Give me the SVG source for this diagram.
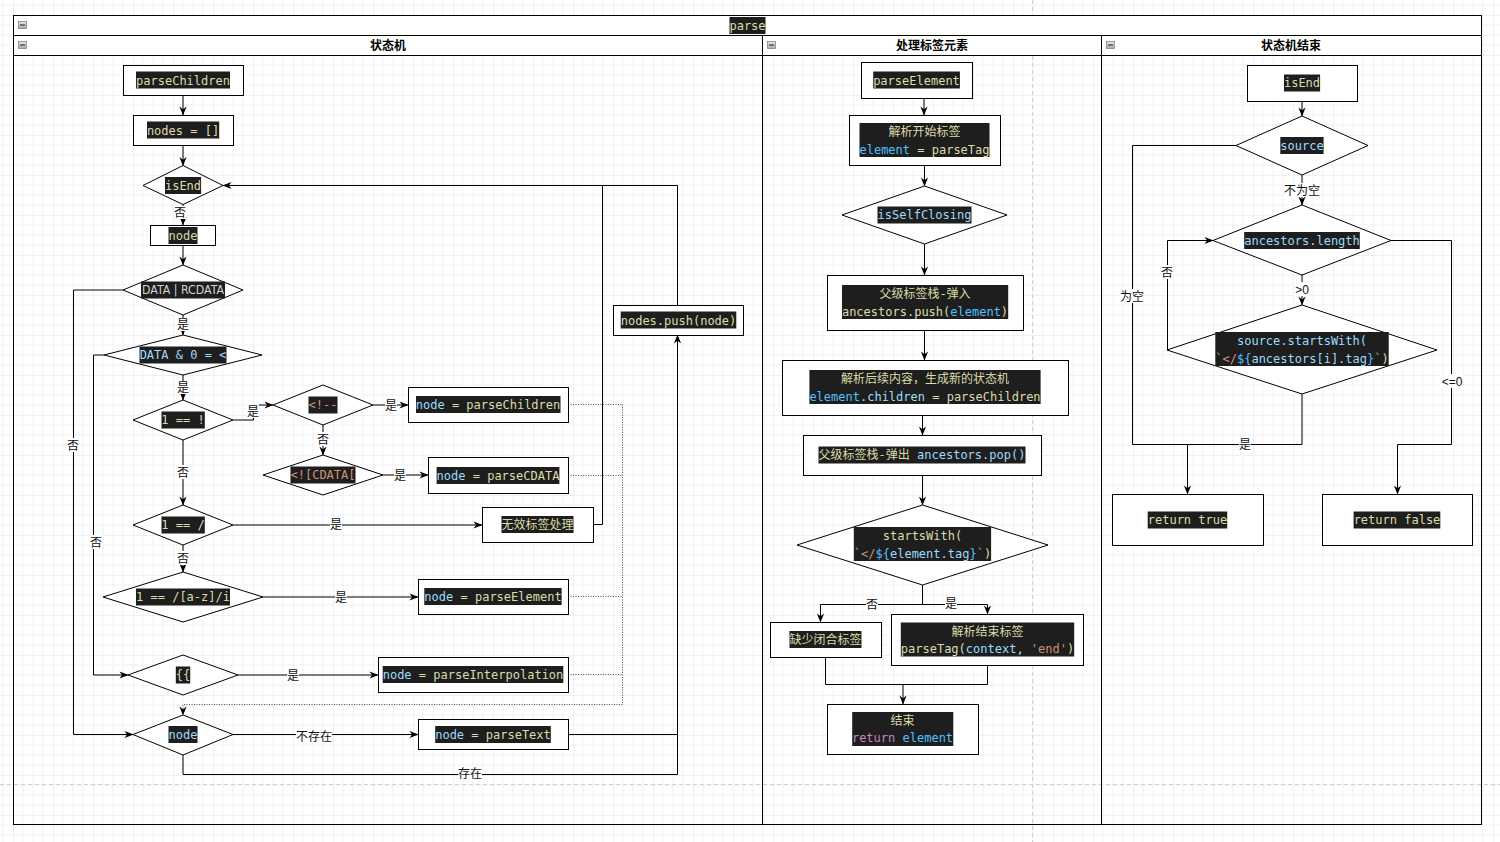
<svg xmlns="http://www.w3.org/2000/svg" xmlns:xlink="http://www.w3.org/1999/xlink" width="1500" height="842" viewBox="0 0 1500 842">
<defs>
<pattern id="grid" width="40" height="40" patternUnits="userSpaceOnUse" x="13" y="15">
<path d="M10,0V40M20,0V40M30,0V40M0,10H40M0,20H40M0,30H40" stroke="#f1f1f5" stroke-width="1" fill="none"/>
<path d="M0,0V40M0,0H40" stroke="#e2e2ea" stroke-width="1" fill="none"/>
</pattern>
<linearGradient id="ig" x1="0" y1="0" x2="0" y2="1"><stop offset="0" stop-color="#e8e8e8"/><stop offset="1" stop-color="#a8a8a8"/></linearGradient>
<symbol id="col" viewBox="0 0 9 8" width="9" height="8"><rect x="0.5" y="0.5" width="8" height="7" fill="url(#ig)" stroke="#777" stroke-width="0.7"/><path d="M2,4H7" stroke="#222" stroke-width="1"/></symbol>
<marker id="a" viewBox="0 0 10 10" refX="9.5" refY="5" markerWidth="9" markerHeight="9" markerUnits="userSpaceOnUse" orient="auto"><path d="M0,1 L10,5 L0,9 L3,5 Z" fill="#000"/></marker>
</defs>
<style>
.box{fill:#fff;stroke:#000;stroke-width:1}
.hdr{fill:#fffffd;stroke:#000;stroke-width:1}
.hl{fill:#1e1e1e}
.code{font-family:"DejaVu Sans Mono","Noto Sans CJK SC",monospace;font-size:12px;fill:#dcdcaa;text-anchor:middle}
.b{fill:#9cdcfe}.e{fill:#4fc1ff}.o{fill:#ce9178}.p{fill:#c586c0}.w{fill:#d4d4d4}.y{fill:#dcdcaa}
.edge{fill:none;stroke:#000;stroke-width:1}
.arr{marker-end:url(#a)}
.dot{fill:none;stroke:#555;stroke-width:1;stroke-dasharray:1,1.5}
.lbl{font-family:"Noto Sans CJK SC","Liberation Sans",sans-serif;font-size:12px;fill:#111;text-anchor:middle}
.lbg{fill:#fff}
.ttl{font-family:"Noto Sans CJK SC","Liberation Sans",sans-serif;font-size:12px;font-weight:bold;fill:#000;text-anchor:middle}
.pg{stroke:#cfcfd4;stroke-width:1;stroke-dasharray:4,3;fill:none}
</style>
<rect width="1500" height="842" fill="#fff"/>
<rect width="1500" height="842" fill="url(#grid)"/>
<path class="pg" d="M0,784.5H1500M1032.5,0V842"/>

<g id="container">
<rect x="13.5" y="15.5" width="1468" height="809" fill="none" stroke="#000"/>
<rect class="hdr" x="13.5" y="15.5" width="1468" height="20"/>
<rect class="hl" x="729.5" y="17" width="36" height="17"/>
<text class="code" x="747.5" y="29.5">parse</text>
<use xlink:href="#col" x="18" y="21"/>
</g>
<g id="lane1">
<rect class="hdr" x="13.5" y="35.5" width="749" height="20"/>
<rect x="13.5" y="35.5" width="749" height="789" fill="none" stroke="#000"/>
<use xlink:href="#col" x="18" y="41"/>
<text class="ttl" x="388" y="49.5">状态机</text>
</g>
<g id="lane2">
<rect class="hdr" x="762.5" y="35.5" width="339" height="20"/>
<rect x="762.5" y="35.5" width="339" height="789" fill="none" stroke="#000"/>
<use xlink:href="#col" x="767" y="41"/>
<text class="ttl" x="932" y="49.5">处理标签元素</text>
</g>
<g id="lane3">
<rect class="hdr" x="1101.5" y="35.5" width="380" height="20"/>
<rect x="1101.5" y="35.5" width="380" height="789" fill="none" stroke="#000"/>
<use xlink:href="#col" x="1106" y="41"/>
<text class="ttl" x="1291" y="49.5">状态机结束</text>
</g>

<g id="connectors">
<path class="edge arr" d="M183,95V115"/>
<path class="edge arr" d="M183,145V165.5"/>
<path class="edge arr" d="M183,204.5V225"/>
<path class="edge arr" d="M183,245V265"/>
<path class="edge arr" d="M183,315V335"/>
<path class="edge arr" d="M123,290H73.5V734.5H133"/>
<path class="edge arr" d="M104,355H93.5V675H128"/>
<path class="edge arr" d="M183,375V400"/>
<path class="edge arr" d="M233,420H253.5V405H273"/>
<path class="edge arr" d="M373,405H408"/>
<path class="edge arr" d="M323,425V455"/>
<path class="edge arr" d="M383,475H428"/>
<path class="edge arr" d="M183,440V505"/>
<path class="edge arr" d="M233,525H482"/>
<path class="edge arr" d="M183,545V572"/>
<path class="edge arr" d="M263,597H418"/>
<path class="edge arr" d="M238,675H378"/>
<path class="edge arr" d="M233,734.5H418"/>
<path class="edge arr" d="M183,755V774.5H677.5V335"/>
<path class="edge" d="M568,734.5H677.5"/>
<path class="edge arr" d="M677.5,305V185.5H223"/>
<path class="edge" d="M593,524.5H602.5V185.5"/>
<path class="dot" d="M568,404.5H622.5M568,475.5H622.5M568,596.5H622.5M568,674.5H622.5"/>
<path class="dot arr" d="M622.5,404.5V704.5H183V715"/>

<path class="edge arr" d="M924,98V115"/>
<path class="edge arr" d="M924.5,165V186"/>
<path class="edge arr" d="M924.5,244V275"/>
<path class="edge arr" d="M924.5,330V360"/>
<path class="edge arr" d="M922.5,415V435"/>
<path class="edge arr" d="M922.5,475V505"/>
<path class="edge arr" d="M922.5,585V604.5H820.5V622"/>
<path class="edge arr" d="M922.5,604.5H987.5V614"/>
<path class="edge" d="M825.5,657V684.5H987.5V665"/>
<path class="edge arr" d="M903,684.5V704"/>

<path class="edge arr" d="M1302,101V116"/>
<path class="edge arr" d="M1302,175V205"/>
<path class="edge arr" d="M1302,275V305"/>
<path class="edge" d="M1236,145.5H1132.5V444.5H1302V394"/>
<path class="edge arr" d="M1187.5,444.5V494"/>
<path class="edge arr" d="M1167.5,350V240.5H1213"/>
<path class="edge arr" d="M1391,240.5H1451.5V444.5H1397.5V494"/>

<g id="edge-labels">
<rect class="lbg" x="174" y="206" width="12" height="13"/><text class="lbl" x="180" y="217">否</text>
<rect class="lbg" x="177" y="318" width="12" height="13"/><text class="lbl" x="183" y="328.5">是</text>
<rect class="lbg" x="67" y="438" width="12" height="14"/><text class="lbl" x="73" y="449.5">否</text>
<rect class="lbg" x="90" y="535" width="12" height="14"/><text class="lbl" x="96" y="546.5">否</text>
<rect class="lbg" x="177" y="381" width="12" height="13"/><text class="lbl" x="183" y="391.5">是</text>
<rect class="lbg" x="247" y="404" width="12" height="14"/><text class="lbl" x="253" y="415.5">是</text>
<rect class="lbg" x="385" y="398" width="12" height="14"/><text class="lbl" x="391" y="409.5">是</text>
<rect class="lbg" x="317" y="432" width="12" height="14"/><text class="lbl" x="323" y="443.5">否</text>
<rect class="lbg" x="394" y="468" width="12" height="14"/><text class="lbl" x="400" y="479.5">是</text>
<rect class="lbg" x="177" y="465" width="12" height="14"/><text class="lbl" x="183" y="476.5">否</text>
<rect class="lbg" x="330" y="517" width="12" height="14"/><text class="lbl" x="336" y="528.5">是</text>
<rect class="lbg" x="177" y="551" width="12" height="14"/><text class="lbl" x="183" y="562.5">否</text>
<rect class="lbg" x="335" y="590" width="12" height="14"/><text class="lbl" x="341" y="601.5">是</text>
<rect class="lbg" x="287" y="668" width="12" height="14"/><text class="lbl" x="293" y="679.5">是</text>
<rect class="lbg" x="296" y="729" width="36" height="14"/><text class="lbl" x="314" y="740.5">不存在</text>
<rect class="lbg" x="458" y="766" width="24" height="14"/><text class="lbl" x="470" y="777.5">存在</text>
<rect class="lbg" x="866" y="597" width="12" height="14"/><text class="lbl" x="872" y="608.5">否</text>
<rect class="lbg" x="945" y="596" width="12" height="14"/><text class="lbl" x="951" y="607.5">是</text>
<rect class="lbg" x="1284" y="183" width="36" height="14"/><text class="lbl" x="1302" y="194.5">不为空</text>
<rect class="lbg" x="1294" y="282" width="16" height="14"/><text class="lbl" x="1302" y="293.5" style="font-family:'Liberation Sans',sans-serif">&gt;0</text>
<rect class="lbg" x="1120" y="289" width="24" height="14"/><text class="lbl" x="1132" y="300.5">为空</text>
<rect class="lbg" x="1239" y="437" width="12" height="14"/><text class="lbl" x="1245" y="448.5">是</text>
<rect class="lbg" x="1161" y="265" width="12" height="14"/><text class="lbl" x="1167" y="276.5">否</text>
<rect class="lbg" x="1440" y="374" width="23" height="14"/><text class="lbl" x="1452" y="385.5" style="font-family:'Liberation Sans',sans-serif">&lt;=0</text>
</g>
</g>

<g id="n-parseChildren"><rect class="box" x="123.5" y="65.5" width="120" height="30"/><rect class="hl" x="136" y="71.5" width="94" height="17"/><text class="code" x="183" y="84.5">parseChildren</text></g>
<g id="n-nodes"><rect class="box" x="133.5" y="115.5" width="100" height="30"/><rect class="hl" x="147" y="121.5" width="72.2" height="17"/><text class="code" x="183" y="134.5">nodes = []</text></g>
<g id="n-isEnd"><polygon class="box" points="143,185.5 183,165.5 223,185.5 183,204.5"/><rect class="hl" x="165" y="177" width="36.1" height="17"/><text class="code" x="183" y="189.5">isEnd</text></g>
<g id="n-node"><rect class="box" x="150.5" y="225.5" width="65" height="20"/><rect class="hl" x="168.5" y="227" width="29" height="17"/><text class="code" x="183" y="239.5">node</text></g>
<g id="n-data-rcdata"><polygon class="box" points="123,290 183,265 243,290 183,315"/><rect class="hl" x="141" y="281.5" width="84" height="17"/><text class="code w" x="183" y="294" style="font-family:'DejaVu Sans',sans-serif;font-size:11.5px" textLength="82" lengthAdjust="spacingAndGlyphs">DATA | RCDATA</text></g>
<g id="n-data0"><polygon class="box" points="104,355 183,335 262,355 183,375"/><rect class="hl" x="139.5" y="346.5" width="87" height="17"/><text class="code b" x="183" y="359">DATA &amp; 0 = &lt;</text></g>
<g id="n-eq-excl"><polygon class="box" points="133,420 183,400 233,420 183,440"/><rect class="hl" x="161.5" y="411.5" width="43.3" height="17"/><text class="code" x="183" y="424">1 == !</text></g>
<g id="n-comment"><polygon class="box" points="273,405 323,385 373,405 323,425"/><rect class="hl" x="308.5" y="396.5" width="29" height="17"/><text class="code o" x="323" y="409">&lt;!--</text></g>
<g id="n-cdata"><polygon class="box" points="263,475 323,455 383,475 323,495"/><rect class="hl" x="290.5" y="466.5" width="65" height="17"/><text class="code o" x="323" y="479">&lt;![CDATA[</text></g>
<g id="n-eq-slash"><polygon class="box" points="133,525 183,505 233,525 183,545"/><rect class="hl" x="161.5" y="516.5" width="43.3" height="17"/><text class="code" x="183" y="529">1 == /</text></g>
<g id="n-eq-az"><polygon class="box" points="103,597 183,572 263,597 183,622"/><rect class="hl" x="136" y="588.5" width="94" height="17"/><text class="code" x="183" y="601">1 == /[a-z]/i</text></g>
<g id="n-interp"><polygon class="box" points="128,675 183,655 238,675 183,695"/><rect class="hl" x="175.8" y="666.5" width="14.4" height="17"/><text class="code" x="183" y="679">{{</text></g>
<g id="n-node-check"><polygon class="box" points="133,734.5 183,715 233,734.5 183,755"/><rect class="hl" x="168.5" y="726" width="29" height="17"/><text class="code b" x="183" y="738.5">node</text></g>

<g id="n-pc"><rect class="box" x="408.5" y="387.5" width="160" height="35"/><rect class="hl" x="416" y="396" width="144.5" height="17"/><text class="code" x="488" y="408.5"><tspan class="b">node</tspan> = parseChildren</text></g>
<g id="n-pcdata"><rect class="box" x="428.5" y="457.5" width="140" height="36"/><rect class="hl" x="436.6" y="467" width="122.8" height="17"/><text class="code" x="498" y="479.5"><tspan class="b">node</tspan> = parseCDATA</text></g>
<g id="n-invalid"><rect class="box" x="482.5" y="507.5" width="111" height="35"/><rect class="hl" x="501.5" y="516" width="72" height="17"/><text class="code" x="537.5" y="528.5">无效标签处理</text></g>
<g id="n-pelem"><rect class="box" x="418.5" y="579.5" width="150" height="35"/><rect class="hl" x="424.3" y="588" width="137.3" height="17"/><text class="code" x="493" y="600.5"><tspan class="b">node</tspan> = parseElement</text></g>
<g id="n-pinterp"><rect class="box" x="378.5" y="657.5" width="190" height="35"/><rect class="hl" x="382.7" y="666" width="180.6" height="17"/><text class="code" x="473" y="678.5"><tspan class="b">node</tspan> = parseInterpolation</text></g>
<g id="n-ptext"><rect class="box" x="418.5" y="719.5" width="150" height="30"/><rect class="hl" x="435.2" y="726" width="115.6" height="17"/><text class="code" x="493" y="738.5"><tspan class="b">node</tspan> = parseText</text></g>
<g id="n-push"><rect class="box" x="613.5" y="305.5" width="130" height="30"/><rect class="hl" x="620.7" y="311.5" width="115.6" height="17"/><text class="code" x="678.5" y="324.5">nodes.push(node)</text></g>

<g id="n-parseElement"><rect class="box" x="861.5" y="62.5" width="111" height="36"/><rect class="hl" x="873.2" y="71.5" width="86.7" height="17"/><text class="code" x="916.5" y="84.5">parseElement</text></g>
<g id="n-starttag"><rect class="box" x="849.5" y="115.5" width="151" height="50"/><rect class="hl" x="859.5" y="123" width="130" height="34"/><text class="code" x="924.5" y="136">解析开始标签</text><text class="code" x="924.5" y="153.5"><tspan class="e">element</tspan> = parseTag</text></g>
<g id="n-selfclosing"><polygon class="box" points="842,215 924.5,186 1007,215 924.5,244"/><rect class="hl" x="877.5" y="206.5" width="94" height="17"/><text class="code b" x="924.5" y="219">isSelfClosing</text></g>
<g id="n-ancpush"><rect class="box" x="827.5" y="275.5" width="196" height="55"/><rect class="hl" x="842" y="285" width="166.2" height="34"/><text class="code" x="925" y="298">父级标签栈-弹入</text><text class="code" x="925" y="316">ancestors.push(<tspan class="e">element</tspan>)</text></g>
<g id="n-children"><rect class="box" x="782.5" y="360.5" width="286" height="55"/><rect class="hl" x="809.4" y="370" width="231.2" height="34"/><text class="code" x="925" y="383">解析后续内容，生成新的状态机</text><text class="code" x="925" y="401"><tspan class="e">element</tspan><tspan class="b">.children</tspan> = parseChildren</text></g>
<g id="n-ancpop"><rect class="box" x="803.5" y="435.5" width="238" height="40"/><rect class="hl" x="818.5" y="446.5" width="207" height="17"/><text class="code" x="922" y="459">父级标签栈-弹出 <tspan class="b">ancestors.pop()</tspan></text></g>
<g id="n-startswith"><polygon class="box" points="797,545 922.5,505 1048,545 922.5,585"/><rect class="hl" x="853.8" y="527" width="137.3" height="34"/><text class="code" x="922.5" y="540">startsWith(</text><text class="code" x="922.5" y="557.5"><tspan class="o">`&lt;/</tspan><tspan class="e">${</tspan><tspan class="b">element.tag</tspan><tspan class="e">}</tspan><tspan class="o">`</tspan>)</text></g>
<g id="n-missing"><rect class="box" x="770.5" y="622.5" width="111" height="35"/><rect class="hl" x="789.5" y="631" width="72" height="17"/><text class="code" x="825.5" y="643.5">缺少闭合标签</text></g>
<g id="n-endtag"><rect class="box" x="891.5" y="614.5" width="192" height="51"/><rect class="hl" x="900.8" y="622.5" width="173.4" height="34"/><text class="code" x="987.5" y="635.5">解析结束标签</text><text class="code" x="987.5" y="653">parseTag(<tspan class="b">context, </tspan><tspan class="o">'end'</tspan>)</text></g>
<g id="n-end"><rect class="box" x="827.5" y="704.5" width="151" height="50"/><rect class="hl" x="852.2" y="712" width="101.1" height="34"/><text class="code" x="902.5" y="724.5">结束</text><text class="code" x="902.5" y="742"><tspan class="p">return</tspan><tspan class="e"> element</tspan></text></g>

<g id="n-isEnd2"><rect class="box" x="1247.5" y="65.5" width="110" height="36"/><rect class="hl" x="1284" y="74.5" width="36.1" height="17"/><text class="code" x="1302" y="87">isEnd</text></g>
<g id="n-source"><polygon class="box" points="1236,145.5 1302,116 1368,145.5 1302,175"/><rect class="hl" x="1280.3" y="137" width="43.3" height="17"/><text class="code b" x="1302" y="149.5">source</text></g>
<g id="n-anclen"><polygon class="box" points="1213,240.5 1302,205 1391,240.5 1302,275"/><rect class="hl" x="1244.2" y="232" width="115.6" height="17"/><text class="code b" x="1302" y="244.5">ancestors.length</text></g>
<g id="n-srcsw"><polygon class="box" points="1167,350 1302,305 1437,350 1302,394"/><rect class="hl" x="1215.3" y="332" width="173.4" height="34"/><text class="code b" x="1302" y="345">source.startsWith(</text><text class="code" x="1302" y="363"><tspan class="o">`&lt;/</tspan><tspan class="e">${</tspan><tspan class="b">ancestors[i].tag</tspan><tspan class="e">}</tspan><tspan class="o">`</tspan>)</text></g>
<g id="n-rtrue"><rect class="box" x="1112.5" y="494.5" width="151" height="51"/><rect class="hl" x="1147.7" y="511.5" width="79.5" height="17"/><text class="code" x="1187.5" y="524">return true</text></g>
<g id="n-rfalse"><rect class="box" x="1322.5" y="494.5" width="150" height="51"/><rect class="hl" x="1353.6" y="511.5" width="86.7" height="17"/><text class="code" x="1397" y="524">return false</text></g>
</svg>
